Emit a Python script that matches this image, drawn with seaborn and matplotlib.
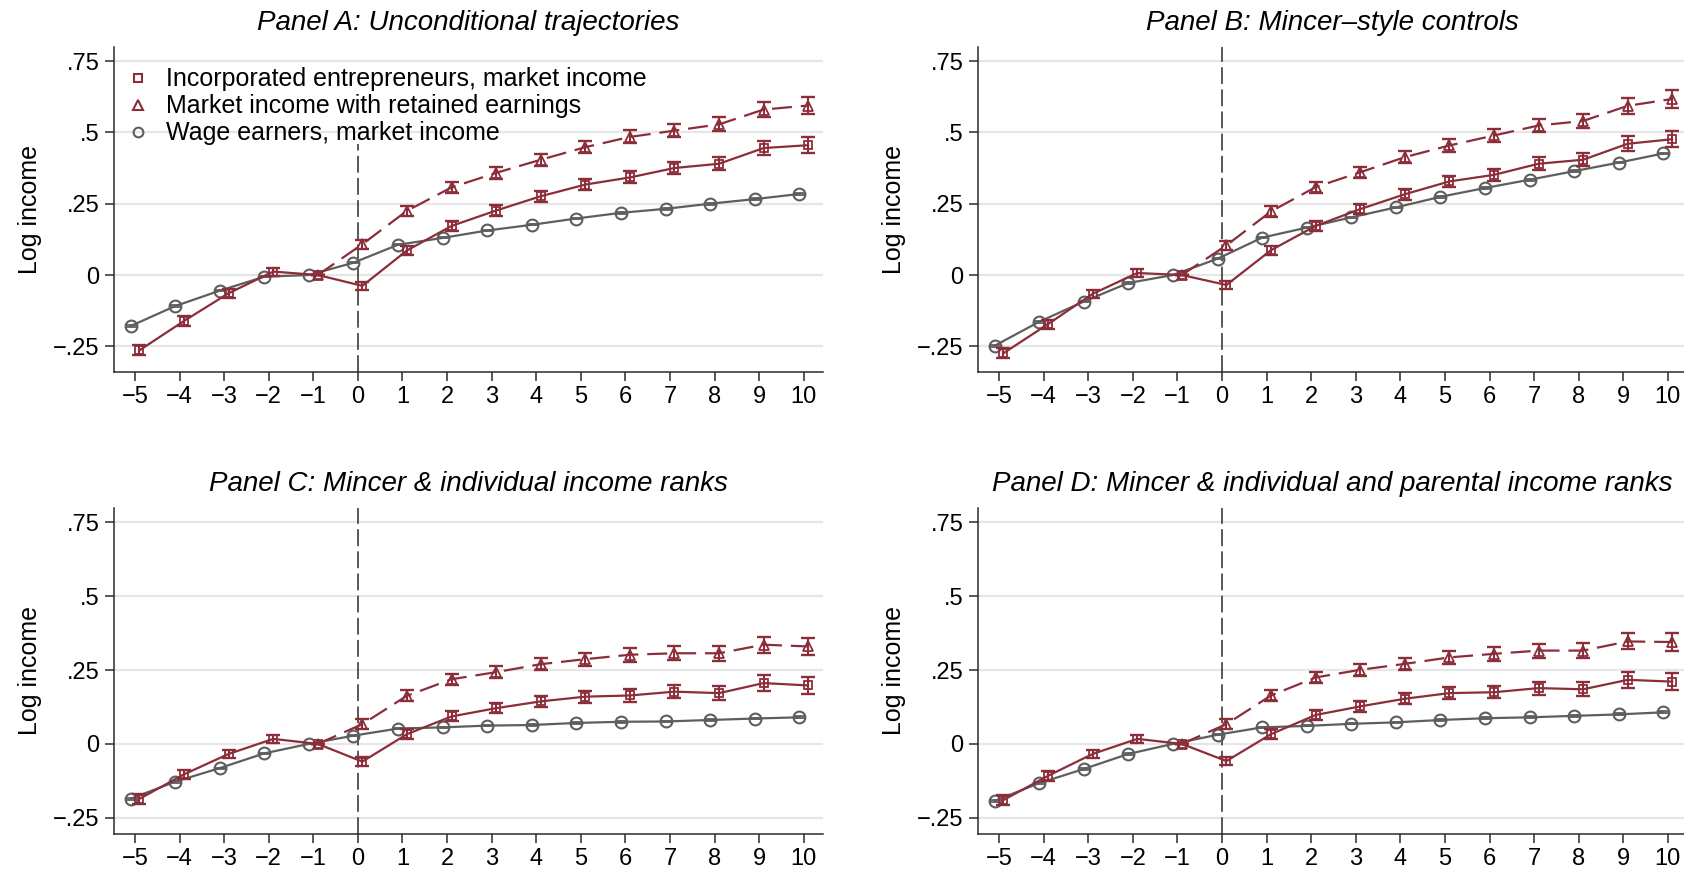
import numpy as np
import pandas as pd
import seaborn as sns
import matplotlib.pyplot as plt
from matplotlib.lines import Line2D

# event time (years since incorporation)
years = list(range(-5, 11))
years_ret = list(range(-1, 11))
xticklabels = [str(y).replace("-", "\u2212") for y in years]

titles = ["Panel A: Unconditional trajectories",
          "Panel B: Mincer\u2013style controls",
          "Panel C: Mincer & individual income ranks",
          "Panel D: Mincer & individual and parental income ranks"]

# wage earners, market income (grey circles)
wage_a = [-0.179, -0.109, -0.055, -0.006, 0.0, 0.043, 0.106, 0.130, 0.156, 0.176, 0.198, 0.218, 0.232, 0.250, 0.266, 0.284]
wage_b = [-0.248, -0.164, -0.093, -0.028, 0.0, 0.057, 0.131, 0.166, 0.202, 0.237, 0.274, 0.305, 0.334, 0.364, 0.394, 0.426]
wage_c = [-0.186, -0.128, -0.082, -0.032, 0.0, 0.028, 0.052, 0.056, 0.062, 0.064, 0.071, 0.075, 0.076, 0.081, 0.086, 0.090]
wage_d = [-0.193, -0.133, -0.085, -0.034, 0.0, 0.031, 0.056, 0.061, 0.068, 0.073, 0.081, 0.087, 0.090, 0.095, 0.100, 0.107]

# incorporated entrepreneurs, market income (red squares)
inc_a = [-0.264, -0.161, -0.064, 0.012, 0.0, -0.038, 0.086, 0.172, 0.226, 0.276, 0.317, 0.342, 0.375, 0.390, 0.445, 0.455]
inc_b = [-0.274, -0.172, -0.066, 0.007, 0.0, -0.035, 0.087, 0.172, 0.231, 0.283, 0.328, 0.351, 0.390, 0.404, 0.460, 0.476]
inc_c = [-0.186, -0.103, -0.034, 0.017, 0.0, -0.060, 0.033, 0.093, 0.121, 0.144, 0.160, 0.164, 0.177, 0.172, 0.206, 0.198]
inc_d = [-0.190, -0.108, -0.034, 0.017, 0.0, -0.058, 0.033, 0.098, 0.127, 0.153, 0.172, 0.175, 0.189, 0.185, 0.217, 0.211]

# market income with retained earnings (red triangles, dashed)
ret_a = [0.0, 0.108, 0.225, 0.307, 0.358, 0.404, 0.448, 0.484, 0.506, 0.528, 0.580, 0.594]
ret_b = [0.0, 0.104, 0.223, 0.308, 0.360, 0.413, 0.454, 0.489, 0.524, 0.540, 0.593, 0.617]
ret_c = [0.0, 0.067, 0.163, 0.219, 0.243, 0.270, 0.287, 0.302, 0.307, 0.307, 0.336, 0.330]
ret_d = [0.0, 0.067, 0.164, 0.225, 0.251, 0.271, 0.293, 0.305, 0.316, 0.316, 0.347, 0.345]

# 95% CI half widths
ci_inc = [0.018, 0.016, 0.015, 0.014, 0.0, 0.014, 0.016, 0.017, 0.018, 0.019, 0.020, 0.021, 0.022, 0.023, 0.026, 0.028]
ci_ret = [0.0, 0.016, 0.018, 0.019, 0.020, 0.021, 0.022, 0.023, 0.024, 0.025, 0.027, 0.030]
ci_wage = [0.003, 0.003, 0.002, 0.002, 0.0, 0.002, 0.002, 0.002, 0.002, 0.002, 0.003, 0.003, 0.003, 0.003, 0.003, 0.003]

panels = [(wage_a, inc_a, ret_a), (wage_b, inc_b, ret_b),
          (wage_c, inc_c, ret_c), (wage_d, inc_d, ret_d)]

red = "#8c2d3a"
grey = "#5e5e5e"
gridc = "#e6e6e6"
axc = "#2b2b2b"

sns.set_style("white")
plt.rcParams["font.family"] = ["Liberation Sans", "DejaVu Sans"]
plt.rcParams["text.color"] = "black"
plt.rcParams["axes.labelcolor"] = "black"
plt.rcParams["xtick.color"] = "black"
plt.rcParams["ytick.color"] = "black"

fig = plt.figure(figsize=(16.84, 8.69), dpi=100)
rects = [[0.0677, 0.5719, 0.4210, 0.3743],
         [0.5808, 0.5719, 0.4210, 0.3743],
         [0.0677, 0.0403, 0.4210, 0.3755],
         [0.5808, 0.0403, 0.4210, 0.3755]]
ylims = [(-0.34, 0.80), (-0.34, 0.80), (-0.305, 0.80), (-0.305, 0.80)]

for i, (wage, inc, ret) in enumerate(panels):
    ax = fig.add_axes(rects[i])
    xw = np.array(years) - 0.1
    xi = np.array(years) + 0.1
    xr = np.array(years_ret) + 0.1

    for yv in [-0.25, 0, 0.25, 0.5, 0.75]:
        ax.axhline(yv, color=gridc, lw=1.6, zorder=0)
    # legend in panel A hides the top of the reference line
    ax.axvline(0, ymax=0.70 if i == 0 else 1.0, color=axc, lw=1.1,
               ls=(0, (11, 3.5)), zorder=1)

    sns.lineplot(x=xw, y=wage, ax=ax, color=grey, lw=1.6, marker="o", markersize=8.5,
                 markerfacecolor="none", markeredgecolor=grey, markeredgewidth=1.5, zorder=3)
    ax.errorbar(xw, wage, yerr=ci_wage, fmt="none", ecolor=grey, elinewidth=1.2,
                capsize=4, capthick=1.3, zorder=3)

    sns.lineplot(x=xi, y=inc, ax=ax, color=red, lw=1.6, marker="s", markersize=6,
                 markerfacecolor="none", markeredgecolor=red, markeredgewidth=1.3, zorder=4)
    ax.errorbar(xi, inc, yerr=ci_inc, fmt="none", ecolor=red, elinewidth=1.5,
                capsize=4.8, capthick=1.7, zorder=4)

    sns.lineplot(x=xr, y=ret, ax=ax, color=red, lw=1.6, marker="^", markersize=7.5,
                 markerfacecolor="none", markeredgecolor=red, markeredgewidth=1.3, zorder=4)
    ax.lines[-1].set_linestyle((0, (9, 4)))
    ax.errorbar(xr, ret, yerr=ci_ret, fmt="none", ecolor=red, elinewidth=1.5,
                capsize=4.8, capthick=1.7, zorder=4)

    ax.set_xlim(-5.47, 10.43)
    ax.set_ylim(*ylims[i])
    ax.set_xticks(years)
    ax.set_xticklabels(xticklabels)
    ax.set_yticks([-0.25, 0, 0.25, 0.5, 0.75])
    ax.set_yticklabels(["\u2212.25", "0", ".25", ".5", ".75"])
    ax.tick_params(axis="both", labelsize=17, length=6.5, width=1.1, color=axc,
                   direction="out", left=True, bottom=True)
    ax.tick_params(axis="x", pad=3.5)
    ax.tick_params(axis="y", pad=4)
    for s in ["top", "right"]:
        ax.spines[s].set_visible(False)
    for s in ["left", "bottom"]:
        ax.spines[s].set_color(axc)
        ax.spines[s].set_linewidth(1.1)
    ax.set_xlabel("")
    ax.set_ylabel("Log income", fontsize=18, labelpad=8)
    ax.set_title(titles[i], fontsize=20, style="italic", pad=12)

    if i == 0:
        handles = [Line2D([], [], ls="none", marker="s", ms=6, mfc="none", mec=red, mew=1.5),
                   Line2D([], [], ls="none", marker="^", ms=7, mfc="none", mec=red, mew=1.5),
                   Line2D([], [], ls="none", marker="o", ms=7, mfc="none", mec=grey, mew=1.5)]
        labels = ["Incorporated entrepreneurs, market income",
                  "Market income with retained earnings",
                  "Wage earners, market income"]
        ax.legend(handles, labels, loc="upper left", bbox_to_anchor=(-0.002, 0.975),
                  frameon=False, fontsize=18, handlelength=1.0, handletextpad=0.65,
                  labelspacing=0.12, borderpad=0)

fig.savefig("out.png", dpi=100)
